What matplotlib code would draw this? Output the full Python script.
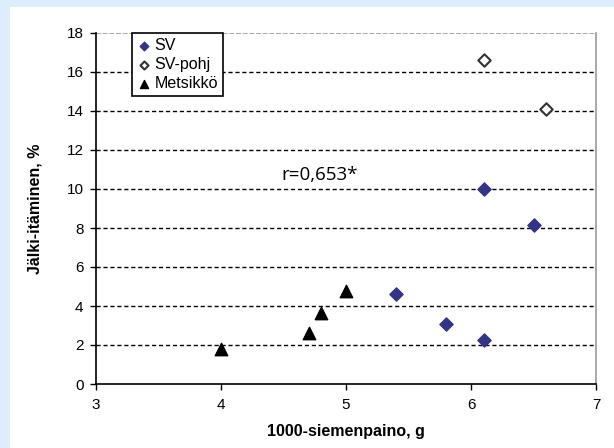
import matplotlib
matplotlib.use('Agg')
import matplotlib.pyplot as plt
from matplotlib.patches import Rectangle

# seed weight (g) vs. late germination (%)
sv_x = [5.4, 5.8, 6.1, 6.1, 6.5]
sv_y = [4.6, 3.1, 2.25, 10.0, 8.15]
pohj_x = [6.1, 6.6]
pohj_y = [16.6, 14.1]
mets_x = [4.0, 4.7, 4.8, 5.0]
mets_y = [1.8, 2.6, 3.65, 4.75]

x_ticks = [3, 4, 5, 6, 7]
y_ticks = [0, 2, 4, 6, 8, 10, 12, 14, 16, 18]

plt.rcParams['font.family'] = ['Liberation Sans', 'DejaVu Sans']

fig = plt.figure(figsize=(6.14, 4.48), dpi=100)
fig.patch.set_facecolor('#deedfb')
fig.patches.append(Rectangle((10 / 614, 0), 1 - 10 / 614, 1 - 7 / 448,
                             transform=fig.transFigure, facecolor='white',
                             edgecolor='none', zorder=-10))

ax = fig.add_axes([96 / 614, 1 - 384 / 448, 500 / 614, 351 / 448])
ax.set_facecolor('white')
ax.set_xlim(3, 7)
ax.set_ylim(0, 18)
ax.set_xticks(x_ticks)
ax.set_yticks(y_ticks)
ax.tick_params(direction='out', length=4, width=1, labelsize=11)
ax.tick_params(axis='x', pad=6)
ax.tick_params(axis='y', pad=5)

for v in y_ticks[1:-1]:
    ax.axhline(v, color='black', linestyle=(0, (3, 2)), linewidth=1, zorder=1)
ax.axhline(18, color='#999999', linestyle=(0, (3, 1)), linewidth=1.2, zorder=1)

ax.spines['top'].set_visible(False)
ax.spines['right'].set_color('#999999')
ax.spines['right'].set_linewidth(1.2)
ax.spines['left'].set_linewidth(1.2)
ax.spines['bottom'].set_linewidth(1.2)

ax.scatter(sv_x, sv_y, marker='D', s=45, color='#333388', label='SV', zorder=3)
ax.scatter(pohj_x, pohj_y, marker='D', s=40, facecolor='white', edgecolor='#333333',
           linewidth=1.5, label='SV-pohj', zorder=3)
ax.scatter(mets_x, mets_y, marker='^', s=80, color='black', label='Metsikkö', zorder=3)

ax.text(4.79, 10.7, 'r=0,653*', fontsize=13.5, family=['Open Sans', 'DejaVu Sans'],
        ha='center', va='center')

ax.set_xlabel('1000-siemenpaino, g', fontsize=11.5, fontweight='bold', labelpad=9)
ax.set_ylabel('Jälki-itäminen, %', fontsize=11.5, fontweight='bold', labelpad=17)

leg = ax.legend(loc='upper left', bbox_to_anchor=(36 / 500, 1.0), fontsize=11.5,
                frameon=True, fancybox=False, edgecolor='black', framealpha=1,
                handlelength=0.9, handletextpad=0.2, borderpad=0.3,
                labelspacing=0.25, markerscale=0.65, borderaxespad=0)
leg.get_frame().set_linewidth(1.2)

fig.savefig('out.png', dpi=100, facecolor=fig.get_facecolor())
